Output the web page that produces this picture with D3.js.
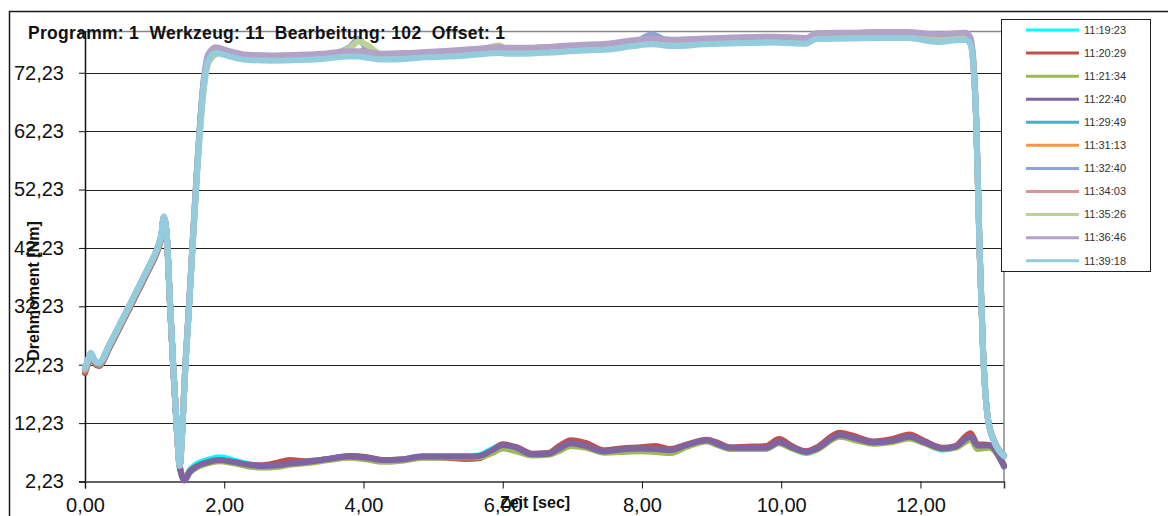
<!DOCTYPE html>
<html>
<head>
<meta charset="utf-8">
<script src="https://cdn.jsdelivr.net/npm/d3@7"></script>
<style>
  body { margin: 0; background: #fff; }
  svg { display: block; font-family: Arial, "Liberation Sans", sans-serif; }
</style>
</head>
<body>
<div id="chart"></div>
<script>
"use strict";

// chart texts
var title = "Programm: 1  Werkzeug: 11  Bearbeitung: 102  Offset: 1";
var yTitle = "Drehmoment [Nm]";
var xTitle = "Zeit [sec]";

// axis ticks
var yTicks = [2.23, 12.23, 22.23, 32.23, 42.23, 52.23, 62.23, 72.23];
var xTicks = [0, 2, 4, 6, 8, 10, 12];

// series names and colours (legend order)
var names = ["11:19:23", "11:20:29", "11:21:34", "11:22:40", "11:29:49", "11:31:13",
             "11:32:40", "11:34:03", "11:35:26", "11:36:46", "11:39:18"];
var colors = ["#00ffff", "#c0504d", "#9bbb59", "#8064a2", "#4bacc6", "#f79646",
              "#8ea5d3", "#d99694", "#bcd294", "#b3a2c7", "#93cddd"];

// time base of the curves that fall back to the low level
var timeLow = [0, 0.04, 0.08, 0.14, 0.2, 0.35, 0.5, 0.65, 0.8, 0.93,
  1.0, 1.05, 1.1, 1.13, 1.17, 1.22, 1.27, 1.32, 1.36, 1.43,
  1.5, 1.6, 1.75, 1.93, 2.12, 2.35, 2.55, 2.75, 2.94, 3.2,
  3.5, 3.8, 4.05, 4.27, 4.55, 4.85, 5.2, 5.47, 5.66, 5.85,
  6.0, 6.2, 6.42, 6.66, 6.8, 6.98, 7.2, 7.45, 7.7, 7.98,
  8.2, 8.4, 8.65, 8.93, 9.1, 9.26, 9.5, 9.78, 9.97, 10.15,
  10.36, 10.5, 10.84, 11.1, 11.32, 11.6, 11.84, 12.05, 12.32, 12.5,
  12.72, 12.82, 12.99, 13.2];

var v111923 = [21.0, 22.4, 23.8, 22.5, 22.1, 25.2, 28.7, 32.2, 35.8, 38.9,
  40.6, 42.1, 44.3, 47.1, 44.8, 32.8, 21.1, 10.8, 4.7, 2.5,
  4.1, 5.2, 5.9, 6.4, 5.9, 5.2, 4.9, 5.0, 5.3, 5.7,
  6.1, 6.6, 6.3, 5.9, 6.0, 6.6, 6.6, 6.6, 6.7, 7.8,
  8.4, 7.9, 6.9, 7.1, 7.9, 8.7, 8.2, 7.2, 7.6, 7.8,
  7.7, 7.5, 8.4, 9.2, 8.5, 7.9, 7.8, 7.9, 8.9, 8.0,
  7.1, 7.7, 10.1, 9.4, 8.8, 9.1, 9.8, 8.9, 7.7, 8.1,
  9.7, 8.3, 8.3, 5.0];
var v112029 = [20.8, 22.3, 23.7, 22.4, 22.0, 25.1, 28.6, 32.1, 35.7, 38.8,
  40.5, 42.0, 44.2, 47.0, 44.7, 32.7, 21.0, 10.9, 4.9, 2.6,
  3.9, 4.8, 5.4, 5.8, 5.5, 5.1, 5.0, 5.4, 5.9, 5.7,
  6.1, 6.6, 6.4, 5.9, 6.0, 6.4, 6.3, 6.1, 6.2, 7.5,
  8.6, 8.1, 7.0, 7.1, 8.2, 9.3, 8.8, 7.6, 7.9, 8.1,
  8.3, 7.8, 8.6, 9.4, 8.8, 8.1, 8.2, 8.3, 9.5, 8.3,
  7.4, 8.0, 10.6, 9.8, 9.1, 9.5, 10.3, 9.2, 8.0, 8.3,
  10.5, 8.6, 8.5, 5.0];
var v112134 = [21.2, 22.5, 23.9, 22.6, 22.2, 25.3, 28.8, 32.3, 35.9, 39.0,
  40.7, 42.2, 44.4, 47.2, 44.9, 32.9, 21.2, 11.1, 4.9, 2.6,
  3.7, 4.6, 5.3, 5.7, 5.4, 4.8, 4.6, 4.7, 5.1, 5.4,
  5.9, 6.3, 6.0, 5.6, 5.8, 6.3, 6.4, 6.4, 6.4, 7.1,
  7.9, 7.4, 6.7, 6.8, 7.4, 8.3, 8.0, 7.2, 7.3, 7.4,
  7.3, 7.1, 8.2, 9.1, 8.4, 7.8, 7.8, 7.8, 8.8, 7.9,
  7.2, 7.6, 9.9, 9.2, 8.7, 9.0, 9.6, 8.8, 7.8, 8.0,
  9.4, 7.8, 8.0, 4.9];
var v112240 = [21.4, 22.6, 24.0, 22.7, 22.3, 25.4, 28.9, 32.4, 36.0, 39.1,
  40.8, 42.3, 44.5, 47.3, 45.0, 33.0, 21.3, 11.0, 4.8, 2.4,
  3.8, 4.8, 5.5, 5.9, 5.6, 5.1, 4.9, 5.0, 5.3, 5.6,
  6.1, 6.5, 6.3, 5.9, 6.0, 6.5, 6.5, 6.5, 6.6, 7.6,
  8.5, 8.0, 6.9, 7.0, 7.8, 8.8, 8.3, 7.4, 7.7, 7.9,
  7.8, 7.6, 8.5, 9.3, 8.6, 8.0, 8.0, 8.0, 9.0, 8.1,
  7.3, 7.8, 10.2, 9.5, 8.9, 9.2, 9.9, 9.0, 7.9, 8.2,
  9.9, 8.4, 8.4, 4.8];

// time base of the curves that climb to the high level
var timeHigh = [0, 0.04, 0.08, 0.14, 0.2, 0.35, 0.5, 0.65, 0.8, 0.93,
  1.0, 1.05, 1.1, 1.13, 1.17, 1.22, 1.27, 1.32, 1.36,
  1.4, 1.43, 1.5, 1.6, 1.7, 1.77, 1.88, 2.0, 2.12, 2.35,
  2.7, 3.08, 3.4, 3.8, 3.93, 4.05, 4.27, 4.6, 4.9, 5.23,
  5.6, 5.95, 6.05, 6.3, 6.7, 7.09, 7.5, 7.88, 8.14, 8.45,
  8.9, 9.4, 9.9, 10.36, 10.5, 11.0, 11.4, 11.8, 12.27, 12.5,
  12.65, 12.72, 12.8, 12.85, 12.9, 12.97, 13.07, 13.2];

var v112949 = [21.5, 22.7, 24.1, 22.8, 22.4, 25.5, 29.0, 32.5, 36.1, 39.2,
  40.9, 42.4, 44.6, 47.4, 45.1, 33.1, 21.4, 11.1, 4.9,
  11.6, 19.2, 33.3, 53.8, 69.9, 74.6, 75.9, 75.6, 75.2, 74.7,
  74.6, 74.7, 74.9, 75.3, 75.4, 75.1, 74.8, 74.9, 75.2, 75.3,
  75.6, 75.9, 75.8, 75.8, 76.0, 76.3, 76.5, 77.1, 77.4, 77.0,
  77.4, 77.6, 77.7, 77.4, 78.3, 78.4, 78.5, 78.5, 77.8, 78.1,
  78.2, 77.3, 64.3, 41.6, 24.4, 12.9, 8.8, 6.6];
var v113113 = [21.6, 22.8, 24.2, 22.9, 22.5, 25.6, 29.1, 32.6, 36.2, 39.3,
  41.0, 42.5, 44.7, 47.5, 45.2, 33.2, 21.5, 11.2, 5.0,
  11.7, 19.4, 33.5, 54.0, 70.1, 74.8, 76.0, 75.7, 75.3, 74.8,
  74.7, 74.8, 75.0, 75.4, 75.7, 76.3, 75.2, 75.0, 75.3, 75.4,
  75.7, 76.0, 75.9, 75.9, 76.1, 76.4, 76.6, 77.2, 77.5, 77.2,
  77.5, 77.7, 77.8, 77.6, 78.4, 78.5, 78.6, 78.6, 77.9, 78.2,
  78.3, 77.4, 64.4, 41.7, 24.4, 12.9, 8.9, 6.7];
var v113240 = [21.7, 22.9, 24.2, 22.9, 22.5, 25.6, 29.1, 32.6, 36.2, 39.3,
  41.0, 42.5, 44.7, 47.5, 45.2, 33.2, 21.5, 11.2, 5.0,
  11.7, 19.4, 33.5, 54.0, 70.1, 74.9, 76.1, 75.8, 75.4, 74.9,
  74.8, 74.9, 75.1, 76.6, 78.0, 76.2, 75.0, 75.1, 75.4, 75.5,
  75.8, 76.1, 76.0, 76.0, 76.2, 76.5, 76.7, 77.3, 78.8, 77.3,
  77.6, 77.8, 77.9, 77.7, 78.5, 78.6, 78.7, 78.7, 78.0, 78.3,
  78.4, 77.5, 64.5, 41.8, 24.5, 12.9, 8.9, 6.7];
var v113403 = [21.4, 22.7, 24.1, 22.8, 22.4, 25.5, 29.0, 32.5, 36.1, 39.2,
  40.9, 42.4, 44.6, 47.4, 45.1, 33.1, 21.4, 11.1, 4.9,
  11.6, 19.3, 33.2, 53.7, 69.8, 74.6, 75.9, 75.6, 75.2, 74.6,
  74.5, 74.7, 74.9, 75.3, 75.3, 75.1, 74.8, 74.9, 75.2, 75.3,
  75.6, 75.9, 75.8, 75.8, 76.0, 76.3, 76.5, 77.1, 77.4, 77.1,
  77.4, 77.6, 77.7, 77.5, 78.3, 78.4, 78.5, 78.5, 77.8, 78.1,
  78.2, 77.3, 64.2, 41.5, 24.3, 12.8, 8.8, 6.6];
var v113526 = [21.5, 22.8, 24.2, 22.9, 22.5, 25.6, 29.1, 32.6, 36.2, 39.3,
  41.0, 42.5, 44.7, 47.5, 45.2, 33.2, 21.5, 11.2, 5.0,
  11.7, 19.2, 33.0, 53.0, 68.5, 73.8, 75.4, 75.8, 75.5, 75.0,
  74.9, 75.0, 75.2, 76.4, 77.6, 77.0, 75.3, 75.2, 75.5, 75.6,
  75.9, 76.9, 76.3, 76.1, 76.3, 76.6, 76.8, 77.4, 77.7, 77.4,
  77.7, 77.9, 78.0, 77.8, 78.6, 78.7, 78.8, 78.8, 78.1, 78.4,
  78.5, 77.6, 64.6, 41.9, 24.5, 12.9, 8.9, 6.7];
var v113646 = [21.6, 22.9, 24.2, 22.9, 22.5, 25.6, 29.1, 32.6, 36.2, 39.3,
  41.0, 42.5, 44.7, 47.5, 45.2, 33.2, 21.5, 11.2, 4.9,
  11.8, 19.6, 33.8, 54.5, 70.6, 75.4, 76.6, 76.2, 75.8, 75.3,
  75.2, 75.3, 75.5, 75.9, 75.9, 75.8, 75.5, 75.6, 75.8, 76.0,
  76.3, 76.6, 76.5, 76.5, 76.7, 77.0, 77.2, 77.8, 78.1, 77.9,
  78.1, 78.3, 78.4, 78.2, 79.0, 79.1, 79.2, 79.2, 78.8, 79.0,
  79.1, 78.2, 65.0, 42.0, 24.6, 13.0, 8.9, 6.7];
var v113918 = [21.8, 23.0, 24.3, 23.0, 22.6, 25.7, 29.2, 32.7, 36.3, 39.4,
  41.1, 42.6, 44.8, 47.6, 45.3, 33.3, 21.6, 11.3, 5.0,
  11.5, 19.0, 33.0, 53.5, 69.5, 74.3, 75.6, 75.3, 74.9, 74.4,
  74.3, 74.4, 74.6, 75.0, 75.0, 74.8, 74.5, 74.6, 74.9, 75.0,
  75.3, 75.6, 75.5, 75.5, 75.7, 76.0, 76.2, 76.8, 77.1, 76.8,
  77.1, 77.3, 77.4, 77.2, 78.0, 78.1, 78.2, 78.2, 77.5, 77.8,
  77.9, 77.0, 64.0, 41.4, 24.2, 12.8, 8.8, 6.6];

var seriesValues = [v111923, v112029, v112134, v112240, v112949, v113113,
                    v113240, v113403, v113526, v113646, v113918];
var seriesTimes = [timeLow, timeLow, timeLow, timeLow, timeHigh, timeHigh,
                   timeHigh, timeHigh, timeHigh, timeHigh, timeHigh];

var width = 1168, height = 516;
var plot = { left: 85, right: 1004, top: 31.5, bottom: 481.5 };

var svg = d3.select("#chart")
  .append("svg")
  .attr("width", width)
  .attr("height", height);

// outer chart frame
svg.append("rect")
  .attr("x", 9.5).attr("y", 11.5)
  .attr("width", 1200).attr("height", 600)
  .attr("fill", "#fff")
  .attr("stroke", "#1a1a1a")
  .attr("stroke-width", 1.5);

var x = d3.scaleLinear().domain([0, 13.2]).range([plot.left, plot.right]);
var y = d3.scaleLinear().domain([2.23, 79.3]).range([plot.bottom, plot.top]);

var fmt = function(d) { return d.toFixed(2).replace(".", ","); };

// horizontal gridlines
svg.append("g")
  .selectAll("line")
  .data(yTicks.slice(1))
  .enter().append("line")
    .attr("x1", plot.left).attr("x2", plot.right)
    .attr("y1", function(d) { return Math.round(y(d)) + 0.5; })
    .attr("y2", function(d) { return Math.round(y(d)) + 0.5; })
    .attr("stroke", "#222")
    .attr("stroke-width", 1);

// top and right border of the plot area
svg.append("path")
  .attr("d", "M" + plot.left + "," + plot.top + "H" + plot.right + "V" + plot.bottom)
  .attr("fill", "none")
  .attr("stroke", "#888")
  .attr("stroke-width", 1.5);

// y axis
var yAxis = svg.append("g")
  .attr("transform", "translate(" + plot.left + ",0)")
  .call(d3.axisLeft(y).tickValues(yTicks).tickFormat(fmt).tickSize(6).tickPadding(15));
yAxis.select(".domain").attr("stroke", "#111").attr("stroke-width", 1.5);
yAxis.selectAll(".tick line").attr("stroke", "#111");
yAxis.selectAll("text")
  .attr("font-size", 20)
  .attr("font-family", "Arial, 'Liberation Sans', sans-serif")
  .attr("fill", "#111");

// x axis
var xAxis = svg.append("g")
  .attr("transform", "translate(0," + plot.bottom + ")")
  .call(d3.axisBottom(x).tickValues(xTicks).tickFormat(fmt).tickSize(7).tickPadding(9));
xAxis.select(".domain").attr("stroke", "#333").attr("stroke-width", 1.5);
xAxis.selectAll(".tick line").attr("stroke", "#111");
xAxis.selectAll("text")
  .attr("font-size", 20)
  .attr("font-family", "Arial, 'Liberation Sans', sans-serif")
  .attr("fill", "#111");

// curves
var line = d3.line()
  .x(function(d) { return x(d[0]); })
  .y(function(d) { return y(d[1]); })
  .curve(d3.curveMonotoneX);

svg.append("g")
  .selectAll("path")
  .data(seriesValues)
  .enter().append("path")
    .attr("d", function(vals, i) {
      return line(vals.map(function(v, j) { return [seriesTimes[i][j], v]; }));
    })
    .attr("fill", "none")
    .attr("stroke", function(d, i) { return colors[i]; })
    .attr("stroke-width", 6)
    .attr("stroke-linejoin", "round")
    .attr("stroke-linecap", "round");

// titles
svg.append("text")
  .attr("x", 28).attr("y", 38.5)
  .attr("font-size", 17.5)
  .attr("font-weight", "bold")
  .attr("fill", "#111")
  .attr("xml:space", "preserve")
  .style("white-space", "pre")
  .attr("textLength", 477)
  .attr("lengthAdjust", "spacing")
  .text(title);

svg.append("text")
  .attr("transform", "translate(39,291) rotate(-90)")
  .attr("text-anchor", "middle")
  .attr("font-size", 16)
  .attr("font-weight", "bold")
  .attr("fill", "#111")
  .text(yTitle);

svg.append("text")
  .attr("x", 535).attr("y", 508)
  .attr("text-anchor", "middle")
  .attr("font-size", 16)
  .attr("font-weight", "bold")
  .attr("fill", "#111")
  .text(xTitle);

// legend
var legend = svg.append("g");
legend.append("rect")
  .attr("x", 1001.5).attr("y", 19.5)
  .attr("width", 149).attr("height", 252)
  .attr("fill", "#fff")
  .attr("stroke", "#222")
  .attr("stroke-width", 1);

var item = legend.selectAll("g.item")
  .data(names)
  .enter().append("g")
    .attr("class", "item")
    .attr("transform", function(d, i) { return "translate(0," + (30 + i * 23.07) + ")"; });

item.append("line")
  .attr("x1", 1026).attr("x2", 1079)
  .attr("stroke", function(d, i) { return colors[i]; })
  .attr("stroke-width", 3);

item.append("text")
  .attr("x", 1084).attr("dy", "0.35em")
  .attr("font-size", 11)
  .attr("fill", "#333")
  .text(function(d) { return d; });
</script>
</body>
</html>
